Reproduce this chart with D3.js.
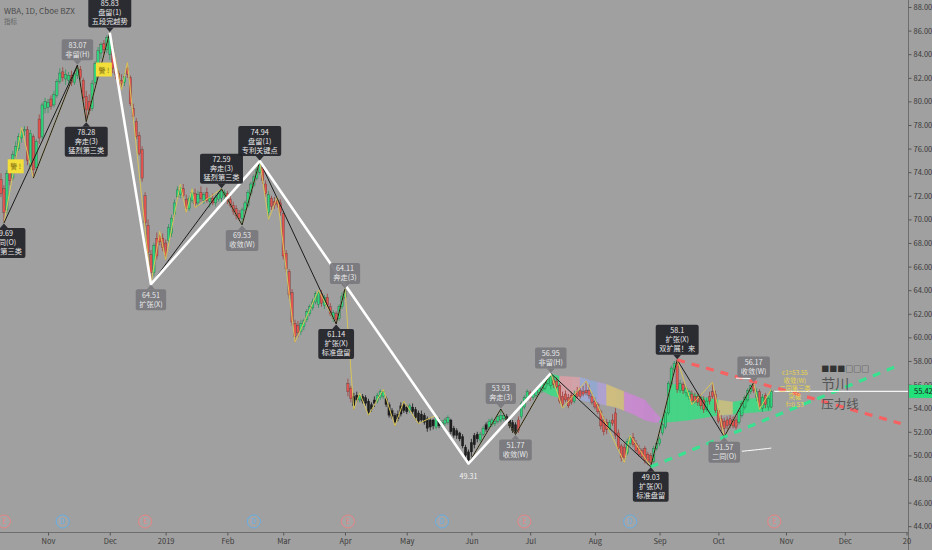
<!DOCTYPE html>
<html><head><meta charset="utf-8">
<script src="https://cdn.jsdelivr.net/npm/d3@7"></script>
<style>
html,body{margin:0;padding:0;background:#a0a0a0;}
svg{display:block;}
text{font-family:"Noto Sans CJK SC","DejaVu Sans",sans-serif;}
</style></head><body>
<svg id="c" width="932" height="550"></svg>
<script>
// ---------------- DATA ----------------
const startDate = "2018-10-10", endDate = "2020-01-10";
const holidays = ["2018-11-22","2018-12-05","2018-12-25","2019-01-01","2019-01-21","2019-02-18","2019-04-19","2019-05-27","2019-07-04","2019-09-02","2019-11-28","2019-12-25","2020-01-01"];
// daily candles [open, high, low, close] from 2018-10-10 (trading days)
const ohlc = [
[73.4,73.9,71.9,72.2],[72.6,72.9,69.69,70.6],[70.8,74.2,70.5,73.9],[74.0,74.6,72.9,73.3],[73.5,75.8,73.3,75.5],
[75.4,76.6,75.0,76.2],[76.0,77.3,75.8,77.0],[76.9,77.8,76.5,77.4],[77.5,77.9,77.1,77.6],[77.6,77.9,74.6,75.0],
[74.5,77.6,74.2,77.3],[77.0,77.2,73.5,74.2],[74.4,76.8,74.1,76.6],[78.5,78.9,76.4,76.9],[77.0,79.9,76.8,79.7],
[79.4,80.3,79.0,80.0],[79.5,80.2,79.0,79.9],[80.2,80.5,79.3,79.6],[79.7,80.9,79.5,80.6],[80.5,81.9,80.3,81.7],
[81.7,82.8,81.5,82.4],[82.5,82.9,81.7,82.0],[81.9,82.7,81.4,82.3],[81.8,82.5,81.5,82.2],[82.2,82.6,81.3,81.6],
[81.6,82.6,81.4,82.4],[82.2,83.07,81.9,82.8],[82.7,83.0,81.8,82.0],[81.8,82.0,80.0,80.3],[80.4,80.9,78.28,79.3],
[80.0,80.6,78.9,79.2],[79.4,81.8,79.2,81.5],[81.6,83.4,81.4,83.2],[83.2,84.6,83.0,84.3],[84.1,85.0,83.6,84.8],
[84.9,85.2,84.0,84.4],[84.4,85.6,84.1,85.4],[84.0,85.83,83.5,85.5],[84.6,85.0,82.4,82.8],[82.9,83.4,81.9,82.3],
[82.4,82.6,81.0,81.3],[81.8,82.3,81.0,81.5],[81.6,82.4,81.3,82.1],[82.8,83.3,82.0,82.3],[82.0,82.2,79.6,79.8],
[79.4,79.8,78.4,78.7],[78.3,78.6,76.8,77.0],[77.1,77.4,75.4,75.6],[75.9,76.2,73.2,73.5],[72.0,72.3,69.4,69.7],
[69.5,70.0,66.8,67.2],[67.0,67.4,64.51,65.5],[65.5,68.0,65.2,67.8],[68.4,68.9,66.6,66.9],[68.6,69.0,67.8,68.1],
[68.4,68.8,67.3,67.6],[68.0,68.3,66.6,66.9],[68.2,69.6,68.0,69.3],[68.8,70.4,68.5,70.1],[70.4,71.7,70.2,71.4],
[71.9,72.8,71.6,72.5],[72.1,73.0,71.8,72.7],[72.6,73.0,71.7,72.0],[71.7,72.1,70.6,70.9],[70.9,72.0,70.7,71.8],
[71.6,72.6,71.4,72.3],[72.2,72.6,71.0,71.3],[71.4,72.4,71.1,72.1],[72.3,72.8,71.5,71.8],[71.6,72.3,71.3,72.1],
[72.3,72.7,71.4,71.6],[71.5,72.0,71.0,71.8],[71.8,72.2,71.2,71.4],[71.4,72.1,71.1,71.9],[71.7,72.4,71.5,72.2],
[71.8,72.59,71.5,72.4],[72.0,72.5,71.6,72.3],[72.2,72.4,71.3,71.6],[71.7,72.0,71.0,71.2],[71.2,71.5,70.4,70.7],
[70.9,71.2,70.0,70.3],[70.5,70.8,69.9,70.1],[70.1,71.0,69.53,70.8],[70.8,71.6,70.6,71.4],[71.2,72.5,71.0,72.3],
[72.2,73.2,72.0,73.0],[72.9,73.8,72.7,73.6],[73.5,74.4,73.3,74.2],[74.0,74.94,73.8,74.7],[74.4,74.6,73.0,73.3],
[73.0,73.3,71.9,72.2],[70.6,72.4,70.0,72.1],[71.8,72.0,70.8,71.1],[71.5,71.9,70.9,71.2],[71.6,71.9,71.0,71.3],
[71.4,71.7,70.3,70.6],[70.5,70.7,66.6,66.9],[67.1,67.4,65.5,65.8],[65.6,65.8,63.3,63.6],[63.8,64.1,61.0,61.3],
[61.2,61.5,59.6,60.1],[61.0,61.4,60.0,60.4],[60.5,61.5,60.2,61.2],[60.9,61.6,60.6,61.4],[61.5,62.4,61.3,62.2],
[62.0,62.8,61.8,62.6],[62.5,63.3,62.3,63.0],[63.0,63.9,62.8,63.7],[62.8,64.0,62.5,63.8],[63.7,64.0,62.6,62.9],
[62.7,63.6,62.4,63.4],[63.4,63.7,62.5,62.7],[62.6,62.9,61.8,62.0],[61.6,62.3,61.3,62.1],[62.0,62.2,61.14,61.5],
[61.6,62.8,61.4,62.6],[62.6,63.8,62.4,63.5],[63.4,64.11,63.2,63.9],[56.1,56.5,55.0,55.4],[55.7,55.9,54.5,54.8],
[55.0,55.3,53.9,54.2],[55.1,55.4,54.5,54.7],[54.7,55.3,54.5,55.1],[55.0,55.2,54.4,54.6],[54.9,55.1,54.2,54.4],
[54.6,54.8,53.4,53.6],[54.3,54.5,53.7,53.9],[54.7,55.0,54.1,54.4],[54.6,55.3,54.4,55.1],[54.9,55.6,54.7,55.4],
[55.0,55.6,54.8,55.4],[54.8,55.0,54.1,54.3],[54.3,54.5,53.2,53.4],[53.8,54.0,53.1,53.3],[53.4,53.6,52.5,52.8],
[53.5,53.8,52.9,53.1],[54.2,54.5,53.3,53.5],[54.3,54.6,53.6,53.8],[54.1,54.3,53.5,53.7],[53.8,54.4,53.6,54.2],
[54.1,54.4,53.5,53.7],[53.9,54.1,53.0,53.2],[53.6,53.8,52.7,52.9],[53.5,53.8,52.8,53.0],[53.4,53.6,52.6,52.8],
[53.1,53.3,52.0,52.3],[53.0,53.2,52.1,52.4],[53.0,53.1,52.2,52.5],[52.4,53.4,52.2,53.2],[53.0,53.2,52.3,52.5],
[52.5,53.0,52.3,52.8],[52.7,53.2,52.5,53.0],[52.8,53.4,52.6,53.2],[53.0,53.1,51.8,52.0],[52.3,52.5,51.5,51.7],
[52.1,52.3,51.4,51.7],[51.9,52.0,51.2,51.4],[51.6,51.8,50.6,50.8],[50.7,50.9,49.8,50.0],[50.3,50.5,49.31,49.6],
[51.1,51.4,49.9,50.3],[51.7,51.9,50.6,50.9],[51.8,52.0,51.1,51.4],[51.3,52.0,51.1,51.8],[51.8,52.5,51.6,52.3],
[52.6,52.8,52.0,52.2],[52.4,53.1,52.2,52.9],[52.6,53.2,52.4,53.0],[52.7,53.1,52.5,52.9],[52.9,53.5,52.7,53.3],
[53.0,53.93,52.8,53.4],[53.1,53.6,52.9,53.4],[53.3,53.5,52.8,53.0],[53.0,53.2,52.3,52.5],[52.8,53.0,51.9,52.1],
[52.6,52.8,51.77,52.0],[53.0,53.3,51.9,52.1],[53.3,54.6,53.1,54.4],[54.1,55.1,53.9,54.9],[54.8,55.6,54.6,55.4],
[55.3,55.5,54.6,54.9],[54.9,55.5,54.7,55.3],[55.1,55.7,54.9,55.5],[55.3,55.9,55.1,55.7],[55.5,56.3,55.3,56.1],
[55.7,56.6,55.5,56.4],[56.1,56.8,55.9,56.6],[55.9,56.95,55.6,56.7],[56.4,56.7,55.7,56.0],[56.3,56.6,55.6,55.8],
[55.9,56.1,54.4,54.6],[55.0,55.4,54.0,54.3],[55.2,55.5,54.5,54.7],[54.9,55.2,54.0,54.2],[55.1,55.4,54.3,54.5],
[54.6,55.5,54.4,55.2],[55.4,55.8,54.8,55.0],[55.5,55.8,54.8,55.0],[55.4,55.9,55.0,55.2],[55.5,56.3,55.1,55.3],
[55.5,56.0,54.8,55.1],[55.0,55.3,54.3,54.5],[54.6,54.9,53.9,54.1],[54.3,54.5,53.5,53.7],[53.7,53.9,52.2,52.5],
[53.0,53.3,51.7,52.0],[52.8,53.1,51.8,52.2],[52.2,53.0,52.0,52.8],[53.0,53.5,52.5,52.7],[53.6,54.0,51.4,51.7],
[51.9,52.2,50.4,50.6],[50.8,51.0,49.5,49.8],[50.7,51.0,49.4,49.8],[50.2,51.4,50.0,51.2],[51.0,51.7,50.8,51.5],
[51.5,51.9,50.7,50.9],[51.0,51.3,50.2,50.4],[50.6,50.9,49.9,50.1],[50.4,50.6,49.7,49.9],[50.6,50.8,49.3,49.6],
[50.1,50.3,49.2,49.5],[50.0,50.2,49.03,49.4],[49.5,50.8,49.3,50.6],[50.6,51.2,50.4,51.0],[51.0,51.6,50.8,51.4],
[51.9,52.8,51.7,52.6],[52.4,53.8,52.2,53.6],[53.6,56.3,53.4,56.1],[56.0,57.6,55.8,57.4],[57.3,58.0,57.0,57.8],
[57.8,58.1,55.3,55.6],[55.5,56.4,55.3,56.1],[56.0,56.2,55.2,55.5],[55.3,55.9,55.0,55.7],[55.0,55.6,54.7,55.4],
[55.2,55.5,54.3,54.6],[55.0,55.3,54.4,54.6],[55.0,55.3,54.2,54.5],[54.9,55.2,53.9,54.2],[54.7,55.0,53.6,53.9],
[53.9,54.9,53.7,54.6],[55.0,55.4,54.3,54.6],[55.4,56.2,54.8,55.0],[55.2,55.5,53.6,53.8],[53.8,54.0,52.7,52.9],
[53.1,53.4,52.1,52.4],[52.9,53.2,51.57,52.3],[53.0,53.3,52.2,52.5],[53.1,53.4,52.3,52.6],[53.0,53.3,52.3,52.5],
[53.0,53.3,52.2,52.4],[52.8,53.9,52.6,53.7],[53.4,54.6,53.2,54.4],[54.1,55.1,53.9,54.9],[54.7,55.7,54.5,55.5],
[55.4,56.0,55.2,55.9],[55.9,56.17,55.3,55.5],[54.9,55.7,54.6,55.4],[55.4,55.6,53.9,54.2],[54.0,55.2,53.7,54.9],
[55.1,55.3,54.0,54.3],[54.1,55.0,53.8,54.8],[54.1,55.6,54.0,55.42]
];
const priceTicks = [44,46,48,50,52,54,56,58,60,62,64,66,68,70,72,74,76,78,80,82,84,86,88];
const monthTickDates = ["2018-11-01","2018-12-03","2019-01-02","2019-02-01","2019-03-01","2019-04-01","2019-05-01","2019-06-03","2019-07-01","2019-08-01","2019-09-03","2019-10-01","2019-11-01","2019-12-02","2020-01-02"];
const monthTickLabels = ["Nov","Dec","2019","Feb","Mar","Apr","May","Jun","Jul","Aug","Sep","Oct","Nov","Dec","20"];

// swing pivots with labels
const pivotIdx   = [1,26,29,37,51,75,82,88,114,117,159,170,175,187,221,230,246,256];
const pivotPrice = [69.69,83.07,78.28,85.83,64.51,72.59,69.53,74.94,61.14,64.11,49.31,53.93,51.77,56.95,49.03,58.1,51.57,56.17];
const pivotSide  = ["L","H","L","H","L","H","L","H","L","H","L","H","L","H","L","H","L","H"];
const pivotLines = [
 ["69.69","二同(O)","猛烈第三类"],["83.07","非留(H)"],["78.28","奔走(3)","猛烈第三类"],["85.83","盘留(1)","五段完越势"],
 ["64.51","扩张(X)"],["72.59","奔走(3)","猛烈第三类"],["69.53","收敛(W)"],["74.94","盘留(1)","专利关键点"],
 ["61.14","扩张(X)","标准盘留"],["64.11","奔走(3)"],["49.31"],["53.93","奔走(3)"],["51.77","收敛(W)"],
 ["56.95","非留(H)"],["49.03","扩张(X)","标准盘留"],["58.1","扩张(X)","双扩展！来"],["51.57","二同(O)"],["56.17","收敛(W)"]
];
// zigzags as [index, price]
const whiteZig = [[37,85.83],[51,64.51],[88,74.94],[159,49.31],[187,56.95]];
const blackZigs = [
 [[1,69.69],[26,83.07]],
 [[11,73.5],[26,83.07]],
 [[26,83.07],[29,78.28],[37,85.83]],
 [[51,64.51],[75,72.59],[82,69.53],[88,74.94],[114,61.14],[117,64.11]],
 [[159,49.31],[170,53.93],[175,51.77],[187,56.95],[221,49.03],[230,58.1],[246,51.57],[256,56.17]]
];
const yellowZig = [[1,69.69],[7,77.8],[11,73.5],[26,83.07],[29,78.28],[37,85.83],[41,81.0],[43,83.3],[51,64.51],[54,69.0],[56,66.6],[61,73.0],[63,70.6],[65,72.6],[66,71.0],[75,72.59],[82,69.53],[88,74.94],[91,70.0],[94,71.9],[100,59.6],[108,64.0],[114,61.14],[117,64.11],[120,53.9],[122,55.3],[125,53.4],[130,55.6],[134,52.5],[137,54.6],[142,52.7],[148,53.4],[159,49.31],[170,53.93],[175,51.77],[187,56.95],[191,54.0],[199,56.3],[212,49.4],[214,51.7],[221,49.03],[230,58.1],[235,54.3],[242,56.2],[246,51.57],[256,56.17],[258,53.9],[262,55.6]];
// trend lines (two anchors each)
const redTrend = [[230,58.1],[306,52.7]];
const greenTrend = [[221,49.03],[306,57.7]];
// ribbon band
const band1J   = [184,187,190,194,197,200,203,206,209,212,215,219,222,225];
const band1Top = [56.2,56.9,56.7,56.65,56.6,56.4,56.2,56.0,55.7,55.4,55.1,54.7,53.8,53.0];
const band1Bot = [55.5,55.1,54.9,54.8,54.7,54.55,54.4,54.25,54.1,53.8,53.5,53.0,52.8,52.8];
const band2J   = [224,226,228,230,234,239,244,249,253,258,262];
const band2Top = [52.9,53.6,56.0,56.0,55.4,54.9,54.7,54.5,54.7,54.9,55.1];
const band2Bot = [52.8,52.8,52.85,52.9,53.0,53.2,53.4,53.5,53.6,53.7,53.8];
// warning flags and events
const flagIdx = [5,35], flagPrice = [74.5,82.7];
const earningsDates = ["2018-10-11","2018-12-20","2019-04-02","2019-06-27","2019-10-28"];
const dividendDates = ["2018-11-08","2019-02-14","2019-05-17","2019-08-19"];
const whiteSegA = [[250,56.55],[256,56.5]];
const whiteSegB = [[252,50.35],[258,50.5],[262,50.62]];
const infoLines = ["c1=53.55","收敛(W)","二同第三类","突破","f=0.53"];
const lastPrice = 55.42;

// ---------------- STYLE ----------------
const W=932,H=550,PR=908,PB=532;
const cUp="#31d47c", cDn="#e0554f", cBlk="#1e1e1e";
const band1Colors = ["#3ddc84","#3ddc84","#dca0a6","#d9a3ab","#9eacd6","#93a8d4","#b2a2d6","#d6c27c","#d4c07c","#cc8ad4","#cc88d4","#c986d2","#c88ad0"];
const band2Colors = ["#3ddc84","#3ddc84","#3ddc84","#3ddc84","#3ddc84","#3ddc84","#c9c27f","#3ddc84","#3ddc84","#3ddc84"];

// ---------------- BUILD ----------------
const parse=d3.utcParse("%Y-%m-%d"), fmt=d3.utcFormat("%Y-%m-%d");
const hol=new Set(holidays);
const days=[];
for(let d=parse(startDate); d<=parse(endDate); d=d3.utcDay.offset(d,1)){
  const wd=d.getUTCDay(); if(wd===0||wd===6) continue;
  if(hol.has(fmt(d))) continue; days.push(fmt(d));
}
const dayIdx=new Map(days.map((d,i)=>[d,i]));

const x=d3.scaleLinear().domain([0,308]).range([1,1+2.94*308]);
const y=d3.scaleLinear().domain([43.508,88.593]).range([PB,0]);

const svg=d3.select("#c");
svg.append("rect").attr("width",W).attr("height",H).attr("fill","#a0a0a0");
svg.append("defs").append("clipPath").attr("id","clip").append("rect").attr("width",PR).attr("height",PB);
const plot=svg.append("g").attr("clip-path","url(#clip)");

// header
svg.append("text").attr("x",4).attr("y",14).attr("font-size",8).attr("fill","#4c4c4c")
  .attr("font-family","Liberation Sans, DejaVu Sans, sans-serif").text("WBA, 1D, Cboe BZX");
svg.append("text").attr("x",4).attr("y",24).attr("font-size",6.5).attr("fill","#666").text("指标");

// band
function drawBand(J,T,B,colors){
  for(let k=0;k<J.length-1;k++){
    const pts=[[x(J[k]),y(T[k])],[x(J[k+1]),y(T[k+1])],[x(J[k+1]),y(B[k+1])],[x(J[k]),y(B[k])]];
    plot.append("path").attr("d","M"+pts.map(p=>p.join(",")).join("L")+"Z")
      .attr("fill",colors[k]).attr("stroke",colors[k]).attr("stroke-width",0.6).attr("opacity",0.88);
  }
}
drawBand(band1J,band1Top,band1Bot,band1Colors);
drawBand(band2J,band2Top,band2Bot,band2Colors);

// candles
const col=(d,i)=> d[3]>=d[0] ? cUp : ((i>=120&&i<=175)? cBlk : cDn);
const bw=2.4;
plot.append("g").selectAll("line").data(ohlc).join("line")
  .attr("x1",(d,i)=>x(i)).attr("x2",(d,i)=>x(i))
  .attr("y1",d=>y(d[1])).attr("y2",d=>y(d[2]))
  .attr("stroke",(d,i)=>d3.color(col(d,i)).darker(0.9)).attr("stroke-width",0.8);
plot.append("g").selectAll("rect").data(ohlc).join("rect")
  .attr("x",(d,i)=>x(i)-bw/2).attr("width",bw)
  .attr("y",d=>y(Math.max(d[0],d[3])))
  .attr("height",d=>Math.max(0.8,Math.abs(y(d[0])-y(d[3]))))
  .attr("fill",col).attr("stroke","rgba(20,20,20,0.55)").attr("stroke-width",0.4);

// lines
const ln=d3.line().x(d=>x(d[0])).y(d=>y(d[1]));
plot.append("path").attr("d",ln(yellowZig)).attr("fill","none").attr("stroke","#d8c55a").attr("stroke-width",1);
blackZigs.forEach(z=>plot.append("path").attr("d",ln(z)).attr("fill","none").attr("stroke","#1c1c1c").attr("stroke-width",1));
plot.append("path").attr("d",ln(whiteZig)).attr("fill","none").attr("stroke","#ffffff").attr("stroke-width",2.6).attr("stroke-linejoin","round");
plot.append("path").attr("d",ln(redTrend)).attr("fill","none").attr("stroke","#ff5a5a").attr("stroke-width",3.2).attr("stroke-dasharray","8,7").attr("opacity",0.9);
plot.append("path").attr("d",ln(greenTrend)).attr("fill","none").attr("stroke","#2ee88e").attr("stroke-width",3.2).attr("stroke-dasharray","8,7").attr("opacity",0.9);
plot.append("path").attr("d",ln(whiteSegA)).attr("fill","none").attr("stroke","#fff").attr("stroke-width",1);
plot.append("path").attr("d",d3.line().curve(d3.curveBasis).x(d=>x(d[0])).y(d=>y(d[1]))(whiteSegB)).attr("fill","none").attr("stroke","#fff").attr("stroke-width",1);

// last price line
plot.append("line").attr("x1",x(ohlc.length-1)+3).attr("x2",PR).attr("y1",y(lastPrice)).attr("y2",y(lastPrice))
  .attr("stroke","#f4f4f4").attr("stroke-width",1.2);

// flags
flagIdx.forEach((j,k)=>{
  const g=plot.append("g").attr("transform",`translate(${x(j)},${y(flagPrice[k])})`);
  g.append("rect").attr("x",-8).attr("y",-7).attr("width",16).attr("height",14).attr("fill","#f3de3a");
  g.append("text").attr("y",3).attr("text-anchor","middle").attr("font-size",7).attr("fill","#7a6a10").text("警 !");
});

// pivot labels
const fs=7.2, lh=9.0;
const labelTone=["dark","gray","dark","dark","gray","dark","gray","dark","dark","gray","plain","gray","gray","gray","dark","dark","gray","gray"];
const gL=plot.append("g");
pivotIdx.forEach((j,k)=>{
  const lines=pivotLines[k], tone=labelTone[k], side=pivotSide[k];
  const cx=x(j), py=y(pivotPrice[k]);
  if(tone==="plain"){
    gL.append("text").attr("x",cx).attr("y",py+15).attr("text-anchor","middle").attr("font-size",fs).attr("fill","#f0f0f0").text(lines[0]);
    return;
  }
  const h=lines.length*lh+3;
  const top= side==="H" ? py-5-h : py+5;
  const g=gL.append("g");
  const rect=g.append("rect");
  const tri=g.append("path");
  const ts=lines.map((t,i)=>g.append("text").attr("x",cx).attr("y",top+1.5+lh*(i+1)-2.1)
     .attr("text-anchor","middle").attr("font-size",fs).attr("fill","#e9e9e9").text(t));
  const w=d3.max(ts,t=>t.node().getComputedTextLength())+7;
  const fill= tone==="dark" ? "rgba(34,36,42,0.93)" : "rgba(120,121,126,0.93)";
  rect.attr("x",cx-w/2).attr("y",top).attr("width",w).attr("height",h).attr("rx",2).attr("fill",fill);
  const tp = side==="H" ? `M${cx-4},${top+h}L${cx+4},${top+h}L${cx},${top+h+4.5}Z` : `M${cx-4},${top}L${cx+4},${top}L${cx},${top-4.5}Z`;
  tri.attr("d",tp).attr("fill",fill);
});

// info text block
const gi=plot.append("g");
infoLines.forEach((t,i)=>gi.append("text").attr("x",x(268)+6).attr("y",y(56.85)+i*8).attr("text-anchor","middle")
  .attr("font-size",6.3).attr("fill","#e8d54e").text(t));
plot.append("text").attr("x",x(279)).attr("y",y(57.05)).attr("font-size",8).attr("fill","#333").attr("font-family","DejaVu Sans").text("■■■□□□");
plot.append("text").attr("x",x(279)).attr("y",y(55.65)).attr("font-size",14).attr("fill","#555").text("节川");
plot.append("text").attr("x",x(279)).attr("y",y(53.9)).attr("font-size",12.5).attr("fill","#555").text("压力线");

// events
function events(list,letter,color){
  list.forEach(dt=>{
    const j=dayIdx.get(dt); if(j===undefined) return;
    const g=svg.append("g").attr("transform",`translate(${x(j)},521.5)`);
    g.append("circle").attr("r",6.5).attr("fill","rgba(255,255,255,0.06)").attr("stroke",color).attr("stroke-width",1);
    g.append("text").attr("y",2.5).attr("text-anchor","middle").attr("font-size",7).attr("fill",color).attr("font-family","DejaVu Sans").text(letter);
  });
}
events(earningsDates,"E","#e98282");
events(dividendDates,"D","#63aee6");

// axes
svg.append("line").attr("x1",PR+0.5).attr("x2",PR+0.5).attr("y1",0).attr("y2",H).attr("stroke","#6e6e6e");
svg.append("line").attr("x1",0).attr("x2",PR).attr("y1",PB+0.5).attr("y2",PB+0.5).attr("stroke","#6e6e6e");
const ya=svg.append("g").attr("transform",`translate(${PR+0.5},0)`)
  .call(d3.axisRight(y).tickValues(priceTicks).tickFormat(d3.format(".2f")).tickSize(3).tickPadding(2));
ya.select(".domain").remove();
ya.selectAll("line").attr("stroke","#555");
ya.selectAll("text").attr("font-size",7.5).attr("fill","#3a3a3a").attr("font-family","Liberation Sans, DejaVu Sans, sans-serif");
const xa=svg.append("g").attr("transform",`translate(0,${PB+0.5})`)
  .call(d3.axisBottom(x).tickValues(monthTickDates.map(d=>dayIdx.get(d))).tickFormat((d,i)=>monthTickLabels[i]).tickSize(3).tickPadding(3));
xa.select(".domain").remove();
xa.selectAll("line").attr("stroke","#555");
xa.selectAll("text").attr("font-size",7.5).attr("fill","#3a3a3a").attr("font-family","Liberation Sans, DejaVu Sans, sans-serif");

// last price tag
const gp=svg.append("g").attr("transform",`translate(${PR+1},${y(lastPrice)})`);
gp.append("rect").attr("x",0).attr("y",-6.5).attr("width",W-PR-1).attr("height",13).attr("fill","#22e07a");
gp.append("text").attr("x",5).attr("y",3).attr("font-size",7.5).attr("fill","#1a1a1a").attr("font-family","Liberation Sans, DejaVu Sans, sans-serif").text(lastPrice.toFixed(2));
</script>
</body></html>
